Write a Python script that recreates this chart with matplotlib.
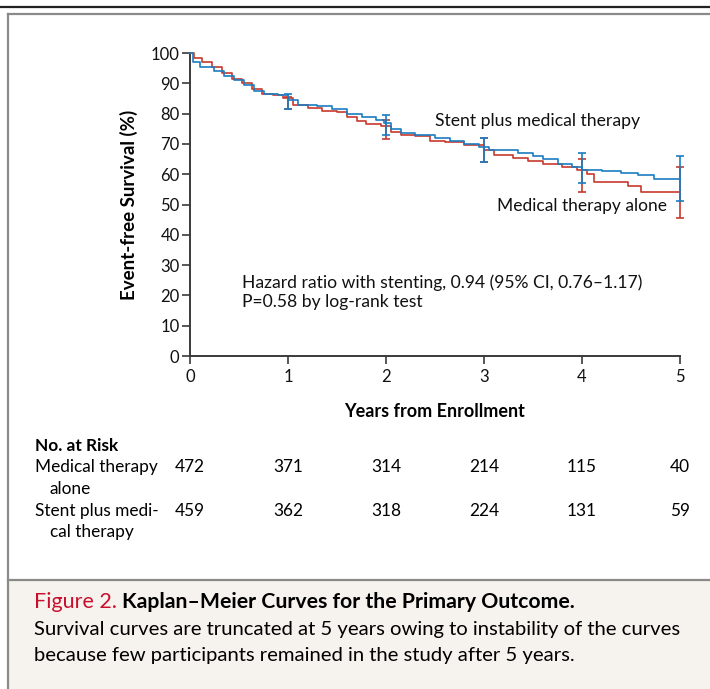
import matplotlib
matplotlib.use('Agg')
import matplotlib.pyplot as plt
from matplotlib.lines import Line2D
from matplotlib.patches import Rectangle

FONT = ['Lato', 'DejaVu Sans']
plt.rcParams['font.family'] = FONT

RED = '#c8392e'
BLUE = '#1b7cc1'
AXIS = '#3a3a3a'

# --- data ---
med_years = [0, 0.04, 0.12, 0.22, 0.33, 0.43, 0.53, 0.63, 0.73, 0.85, 0.95, 1.05, 1.2, 1.35,
             1.5, 1.6, 1.7, 1.8, 1.95, 2.05, 2.15, 2.3, 2.45, 2.6, 2.8, 3.0, 3.1, 3.3, 3.45,
             3.6, 3.8, 3.95, 4.05, 4.12, 4.47, 4.6, 5.0]
med_surv = [100, 98.5, 97, 95.5, 93.5, 91.5, 90, 88, 86.5, 86, 85, 83, 82, 81,
            80.5, 79, 77.5, 76.5, 76, 74, 73, 72.5, 71, 70.5, 69.5, 68, 66.5, 65.5, 64.5,
            63.5, 62.5, 61.5, 60, 57.5, 56.2, 54.2, 54.2]

stent_years = [0, 0.03, 0.1, 0.25, 0.35, 0.45, 0.55, 0.65, 0.75, 0.9, 1.0, 1.1, 1.3, 1.45,
               1.6, 1.75, 1.9, 1.98, 2.05, 2.15, 2.3, 2.5, 2.65, 2.8, 2.95, 3.05, 3.35, 3.5,
               3.6, 3.75, 3.9, 4.0, 4.2, 4.4, 4.57, 4.73, 5.0]
stent_surv = [100, 97, 95.5, 94, 92.5, 91, 89.5, 87.5, 86.5, 86, 84.5, 83, 82.5, 81.5,
              80, 79, 78, 77, 75, 73.5, 73, 72, 71, 70, 69, 68, 67, 66,
              65, 63.5, 62.5, 61.5, 61, 60.5, 59.8, 58.4, 58.4]

ci_years = [1, 2, 3, 4, 5]
med_ci_mid = [84, 74.5, 68, 60.5, 54.2]
med_ci_lo = [81.5, 71.5, 64, 54, 45.5]
med_ci_hi = [85.5, 78, 72, 65, 62.5]
stent_ci_mid = [84, 76, 68, 62, 58.4]
stent_ci_lo = [81.5, 73, 64, 57, 51]
stent_ci_hi = [86.5, 79.5, 72, 67, 66]

risk_years = [0, 1, 2, 3, 4, 5]
risk_med = [472, 371, 314, 214, 115, 40]
risk_stent = [459, 362, 318, 224, 131, 59]

W, H = 710, 689
fig = plt.figure(figsize=(W / 100, H / 100), dpi=100)


def fx(px):
    return px / W


def fy(py):
    return 1 - py / H


# frame and caption panel
fig.add_artist(Line2D([0, 1], [fy(7), fy(7)], color='#222222', lw=1.6))
fig.add_artist(Line2D([fx(8), fx(8)], [fy(14), 0], color='#8a8a8a', lw=1.6))
fig.add_artist(Line2D([fx(8), 1], [fy(14), fy(14)], color='#8a8a8a', lw=1.6))
fig.add_artist(Rectangle((fx(9), 0), 1, fy(580), color='#f6f3ee', lw=0, zorder=0))
fig.add_artist(Line2D([fx(8), 1], [fy(580), fy(580)], color='#8a8a8a', lw=1.6))

ax = fig.add_axes([fx(190), fy(356), fx(680) - fx(190), fy(53) - fy(356)])
ax.set_xlim(0, 5)
ax.set_ylim(0, 100)
ax.patch.set_alpha(0)

ax.step(med_years, med_surv, where='post', color=RED, lw=1.2, clip_on=False, zorder=3)
ax.step(stent_years, stent_surv, where='post', color=BLUE, lw=1.2, clip_on=False, zorder=4)

med_err = [[m - lo for m, lo in zip(med_ci_mid, med_ci_lo)],
           [hi - m for m, hi in zip(med_ci_mid, med_ci_hi)]]
stent_err = [[m - lo for m, lo in zip(stent_ci_mid, stent_ci_lo)],
             [hi - m for m, hi in zip(stent_ci_mid, stent_ci_hi)]]
ax.errorbar(ci_years, med_ci_mid, yerr=med_err, fmt='none', ecolor=RED, elinewidth=1.2,
            capsize=2.8, capthick=1.2, clip_on=False, zorder=3)
ax.errorbar(ci_years, stent_ci_mid, yerr=stent_err, fmt='none', ecolor=BLUE, elinewidth=1.2,
            capsize=2.8, capthick=1.2, clip_on=False, zorder=4)

for s in ['top', 'right']:
    ax.spines[s].set_visible(False)
for s in ['left', 'bottom']:
    ax.spines[s].set_color(AXIS)
    ax.spines[s].set_linewidth(1.4)

ax.set_xticks(range(6))
ax.set_yticks(range(0, 101, 10))
ax.tick_params(axis='both', colors=AXIS, width=1.2, length=6, labelsize=12,
               labelcolor='#111111')
ax.tick_params(axis='x', pad=3)
ax.tick_params(axis='y', pad=1.5)

ax.set_xlabel('Years from Enrollment', fontsize=13, fontweight='bold', labelpad=13)
ax.set_ylabel('Event-free Survival (%)', fontsize=13.5, fontweight='bold', labelpad=9)

ax.text(2.5, 77.6, 'Stent plus medical therapy', fontsize=12.7, color='#111111', va='center')
ax.text(3.13, 49.5, 'Medical therapy alone', fontsize=12.5, color='#111111', va='center')
ax.text(0.53, 24.1, 'Hazard ratio with stenting, 0.94 (95% CI, 0.76\u20131.17)',
        fontsize=12.6, color='#111111', va='center')
ax.text(0.53, 17.8, 'P=0.58 by log-rank test', fontsize=12.6, color='#111111', va='center')

# number at risk
fig.text(fx(35), fy(446), 'No. at Risk', fontsize=12.4, fontweight='bold', va='center')
fig.text(fx(35), fy(467), 'Medical therapy', fontsize=12.4, va='center')
fig.text(fx(50), fy(489), 'alone', fontsize=12.4, va='center')
fig.text(fx(35), fy(511), 'Stent plus medi-', fontsize=12.4, va='center')
fig.text(fx(50), fy(532), 'cal therapy', fontsize=12.4, va='center')
for t, a, b in zip(risk_years, risk_med, risk_stent):
    xp = ax.transData.transform((t, 0))[0] / W
    fig.text(xp, fy(467), str(a), fontsize=12.4, ha='center', va='center')
    fig.text(xp, fy(511), str(b), fontsize=12.4, ha='center', va='center')

# caption
cap = fig.text(fx(34), fy(602), 'Figure 2. ', fontsize=15.5, color='#c8102e', va='center')
fig.canvas.draw()
bb = cap.get_window_extent()
fig.text(bb.x1 / W, fy(602), 'Kaplan\u2013Meier Curves for the Primary Outcome.',
         fontsize=15.3, fontweight='bold', va='center')
fig.text(fx(34), fy(630), 'Survival curves are truncated at 5 years owing to instability '
         'of the curves', fontsize=14.6, va='center')
fig.text(fx(34), fy(655), 'because few participants remained in the study after 5 years.',
         fontsize=14.6, va='center')

fig.savefig('out.png', dpi=100)
